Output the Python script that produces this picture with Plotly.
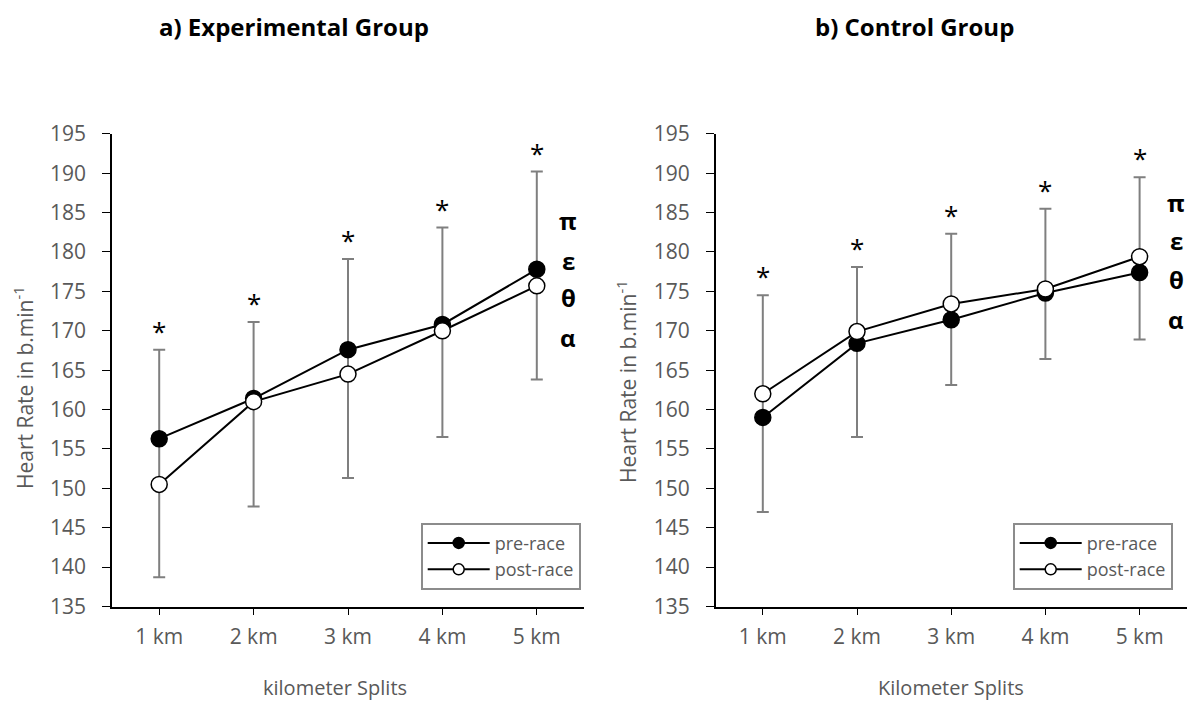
import plotly.graph_objects as go

categories = ["1 km", "2 km", "3 km", "4 km", "5 km"]

# a) Experimental group
exp_pre = [156.3, 161.4, 167.6, 170.8, 177.8]
exp_post = [150.5, 161.0, 164.5, 170.0, 175.7]
exp_err_top = [167.6, 171.1, 179.1, 183.1, 190.2]
exp_err_bottom = [138.7, 147.7, 151.3, 156.5, 163.8]

# b) Control group
ctl_pre = [159.0, 168.4, 171.4, 174.8, 177.4]
ctl_post = [162.0, 169.9, 173.4, 175.3, 179.4]
ctl_err_top = [174.5, 178.1, 182.3, 185.5, 189.5]
ctl_err_bottom = [147.0, 156.5, 163.1, 166.4, 168.9]

greek_letters = ["π", "ε", "θ", "α"]
exp_greek_y = [184.0, 178.9, 174.2, 169.2]
ctl_greek_y = [186.3, 181.4, 176.5, 171.4]

FONT = "Open Sans"
GRAY = "#595959"
ERR = "#7f7f7f"
W, H = 1189, 704

fig = go.Figure()


def px_x(p):
    return p / W


def px_y(p):
    return 1 - p / H


def add_panel(pre, post, top, bottom, xa, ya, legend):
    mid = [(t + b) / 2 for t, b in zip(top, bottom)]
    fig.add_trace(go.Scatter(
        x=categories, y=mid, mode="markers", xaxis=xa, yaxis=ya,
        marker=dict(size=1, color="rgba(0,0,0,0)"), showlegend=False, hoverinfo="skip",
        error_y=dict(type="data", symmetric=False,
                     array=[t - m for t, m in zip(top, mid)],
                     arrayminus=[m - b for m, b in zip(mid, bottom)],
                     color=ERR, thickness=2, width=6)))
    for name, vals, fill in (("pre-race", pre, "black"), ("post-race", post, "white")):
        fig.add_trace(go.Scatter(
            x=categories, y=vals, mode="lines+markers", name=name, xaxis=xa, yaxis=ya,
            showlegend=False,
            line=dict(color="black", width=2),
            marker=dict(size=16, color=fill, line=dict(color="black", width=1.5))))
        # legend entry with the smaller legend symbol
        fig.add_trace(go.Scatter(
            x=[None], y=[None], mode="lines+markers", name=name, xaxis=xa, yaxis=ya,
            legend=legend, hoverinfo="skip",
            line=dict(color="black", width=2),
            marker=dict(size=11, color=fill, line=dict(color="black", width=1.5))))
    for c, t in zip(categories, top):
        fig.add_annotation(x=c, y=t, xref=xa, yref=ya, text="*", showarrow=False,
                           xanchor="center", yanchor="bottom", yshift=-1,
                           font=dict(family=FONT, size=26, color="black"))


add_panel(exp_pre, exp_post, exp_err_top, exp_err_bottom, "x", "y", "legend")
add_panel(ctl_pre, ctl_post, ctl_err_top, ctl_err_bottom, "x2", "y2", "legend2")

for letter, gy in zip(greek_letters, exp_greek_y):
    fig.add_annotation(x=px_x(568), y=gy, xref="paper", yref="y", text="<b>%s</b>" % letter,
                       showarrow=False, xanchor="center", yanchor="middle",
                       font=dict(family=FONT, size=24, color="black"))
for letter, gy in zip(greek_letters, ctl_greek_y):
    fig.add_annotation(x=px_x(1176), y=gy, xref="paper", yref="y2", text="<b>%s</b>" % letter,
                       showarrow=False, xanchor="center", yanchor="middle",
                       font=dict(family=FONT, size=24, color="black"))

# Titles
fig.add_annotation(x=px_x(294), y=px_y(27), xref="paper", yref="paper",
                   text="<b>a) Experimental Group</b>", showarrow=False,
                   xanchor="center", yanchor="middle",
                   font=dict(family=FONT, size=24, color="black"))
fig.add_annotation(x=px_x(914), y=px_y(27), xref="paper", yref="paper",
                   text="<b>b) Control Group</b>", showarrow=False,
                   xanchor="center", yanchor="middle",
                   font=dict(family=FONT, size=24, color="black"))

# Axis titles
fig.add_annotation(x=px_x(335), y=px_y(687), xref="paper", yref="paper",
                   text="kilometer Splits", showarrow=False, xanchor="center", yanchor="middle",
                   font=dict(family=FONT, size=20, color=GRAY))
fig.add_annotation(x=px_x(951), y=px_y(687), xref="paper", yref="paper",
                   text="Kilometer Splits", showarrow=False, xanchor="center", yanchor="middle",
                   font=dict(family=FONT, size=20, color=GRAY))
fig.add_annotation(x=px_x(23), y=px_y(388), xref="paper", yref="paper",
                   text="Heart Rate in b.min<sup>-1</sup>", showarrow=False, textangle=-90,
                   xanchor="center", yanchor="middle",
                   font=dict(family=FONT, size=21, color=GRAY))
fig.add_annotation(x=px_x(626), y=px_y(382), xref="paper", yref="paper",
                   text="Heart Rate in b.min<sup>-1</sup>", showarrow=False, textangle=-90,
                   xanchor="center", yanchor="middle",
                   font=dict(family=FONT, size=21, color=GRAY))

xcommon = dict(type="category", range=[-0.5, 4.5], showline=True, linecolor="black",
               linewidth=1.5, ticks="outside", ticklen=7, tickcolor="black",
               tickfont=dict(family=FONT, size=21, color=GRAY), showgrid=False,
               zeroline=False, fixedrange=True, automargin=False, ticklabelstandoff=4)
ycommon = dict(range=[135, 195], dtick=5, showline=True, linecolor="black", linewidth=1.5,
               ticks="outside", ticklen=8, tickcolor="black",
               tickfont=dict(family=FONT, size=21, color=GRAY), showgrid=False,
               zeroline=False, fixedrange=True, automargin=False, ticklabelstandoff=12)

ydom = [px_y(606.5), px_y(133.8)]

legcommon = dict(xanchor="left", yanchor="top", bordercolor="#8c8c8c", borderwidth=2,
                 bgcolor="white", font=dict(family=FONT, size=18, color=GRAY),
                 itemwidth=62, tracegroupgap=0)

fig.update_layout(
    width=W, height=H,
    margin=dict(l=0, r=0, t=0, b=0),
    paper_bgcolor="white", plot_bgcolor="white",
    font=dict(family=FONT, color=GRAY),
    xaxis=dict(xcommon, domain=[px_x(112), px_x(584)], anchor="y"),
    yaxis=dict(ycommon, domain=ydom, anchor="x"),
    xaxis2=dict(xcommon, domain=[px_x(715.7), px_x(1186.7)], anchor="y2"),
    yaxis2=dict(ycommon, domain=ydom, anchor="x2"),
    legend=dict(legcommon, x=px_x(420.7), y=px_y(522.7)),
    legend2=dict(legcommon, x=px_x(1012.7), y=px_y(522.7)),
)

fig.write_html("out.html",
               config={"displayModeBar": False, "staticPlot": False},
               post_script="document.body.style.margin='0px';"
                           "document.body.style.overflow='hidden';")
